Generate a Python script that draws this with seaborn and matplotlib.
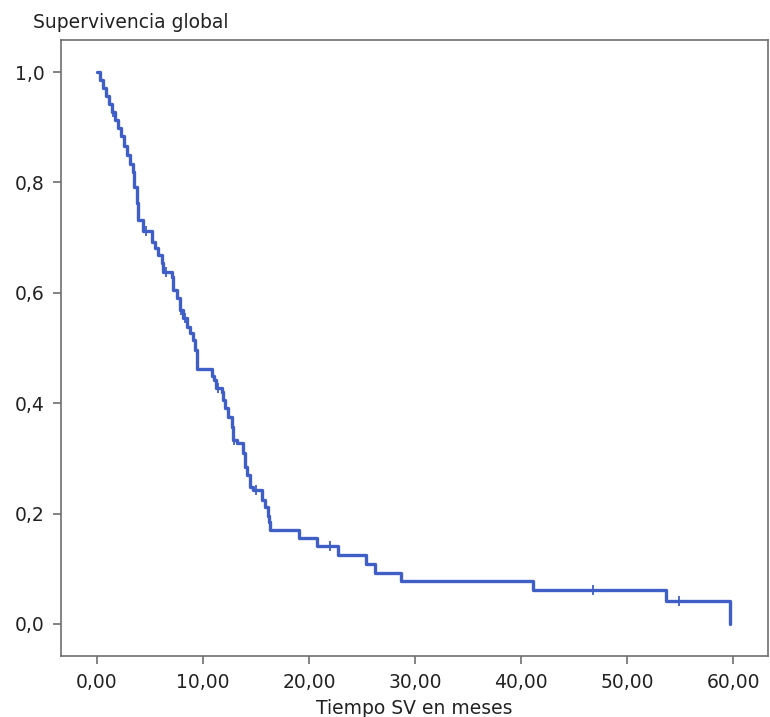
import matplotlib
matplotlib.use("Agg")
import matplotlib.pyplot as plt
import seaborn as sns
import pandas as pd
from matplotlib.ticker import FuncFormatter

# Kaplan-Meier step curve (time in months, survival after step)
times = [0.0, 0.28, 0.57, 0.85, 1.13, 1.42, 1.70, 1.98, 2.26, 2.55, 2.83, 3.11, 3.40,
         3.50, 3.75, 3.87, 4.34, 5.16, 5.47, 5.75, 6.10, 6.20, 7.05, 7.17, 7.50,
         7.83, 8.10, 8.46, 8.77, 9.06, 9.25, 9.40, 10.80, 11.00, 11.20, 11.75, 11.90,
         12.08, 12.36, 12.70, 12.83, 13.20, 13.80, 13.96, 14.15, 14.43, 14.70, 15.55,
         15.85, 16.13, 16.25, 16.35, 19.10, 20.75, 22.70, 25.40, 26.20, 28.70, 41.10,
         53.70, 59.70]
survival = [1.0, 0.986, 0.971, 0.957, 0.942, 0.928, 0.913, 0.899, 0.884, 0.866, 0.850,
            0.833, 0.819, 0.792, 0.763, 0.732, 0.712, 0.692, 0.681, 0.668, 0.654, 0.638,
            0.629, 0.605, 0.591, 0.569, 0.554, 0.538, 0.527, 0.514, 0.496, 0.462, 0.449,
            0.442, 0.428, 0.420, 0.405, 0.391, 0.375, 0.357, 0.333, 0.328, 0.310, 0.284,
            0.270, 0.248, 0.243, 0.225, 0.212, 0.196, 0.185, 0.170, 0.156, 0.141, 0.125,
            0.109, 0.093, 0.078, 0.062, 0.041, 0.0]

# Censored observations (tick marks)
cens_t = [1.5, 4.6, 6.5, 7.9, 8.3, 11.4, 12.9, 15.0, 22.0, 46.8, 54.9]
cens_s = [0.928, 0.712, 0.638, 0.569, 0.554, 0.428, 0.333, 0.243, 0.141, 0.062, 0.041]

x_ticks = [0, 10, 20, 30, 40, 50, 60]
y_ticks = [0.0, 0.2, 0.4, 0.6, 0.8, 1.0]

x_label = "Tiempo SV en meses"
y_label = "Supervivencia global"

sns.set_style("white")
plt.rcParams['font.family'] = ['DejaVu Sans']

color = "#3F5FC6"
frame = "#6E6E6E"

fig = plt.figure(figsize=(7.70, 7.17), dpi=100)
ax = fig.add_axes([61/770, 61/717, (768-61)/770, (656-40)/717])

df = pd.DataFrame({"t": times, "s": survival})
sns.lineplot(data=df, x="t", y="s", drawstyle="steps-post", color=color,
             linewidth=2.4, ax=ax, estimator=None, sort=False)
cdf = pd.DataFrame({"t": cens_t, "s": cens_s})
sns.scatterplot(data=cdf, x="t", y="s", marker="|", s=45, color=color,
                linewidth=1.3, ax=ax, zorder=3)

ax.set_xlim(-3.4, 63.3)
ax.set_ylim(-0.058, 1.058)
ax.set_xticks(x_ticks)
ax.set_yticks(y_ticks)
ax.xaxis.set_major_formatter(FuncFormatter(lambda v, p: f"{v:.2f}".replace(".", ",")))
ax.yaxis.set_major_formatter(FuncFormatter(lambda v, p: f"{v:.1f}".replace(".", ",")))
ax.tick_params(axis="both", direction="out", length=6, width=1.2, color=frame,
               labelsize=13.5, labelcolor="#222222", pad=6, bottom=True, left=True)
for sp in ax.spines.values():
    sp.set_color(frame)
    sp.set_linewidth(1.2)
ax.set_xlabel(x_label, fontsize=13.5, color="#222222", labelpad=5)
ax.set_ylabel("")
fig.text(33/770, 1 - 22/717, y_label, ha="left", va="center", fontsize=13.5,
         color="#222222")

fig.savefig("out.png", dpi=100)
